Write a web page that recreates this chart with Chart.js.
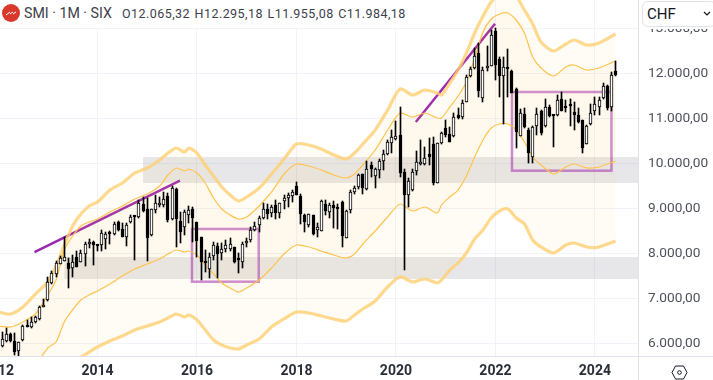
<!DOCTYPE html>
<html>
<head>
<meta charset="utf-8">
<title>SMI</title>
<script src="https://cdn.jsdelivr.net/npm/chart.js@4"></script>
<style>
    html, body { margin: 0; padding: 0; background: #fff; overflow: hidden; }
    body { width: 713px; height: 380px; position: relative; font-family: Roboto, sans-serif; }
    #chart { position: absolute; left: -20px; top: 0; }
    #header { position: absolute; left: 0; top: 0; width: 412px; height: 28px; background: #fff; }
    #logo { position: absolute; left: 2px; top: 4px; width: 18px; height: 18px; border-radius: 50%; background: #d9392a; }
    #title { position: absolute; left: 24px; top: 5px; font-size: 14.2px; color: #3c404b; white-space: nowrap; }
    #ohlc { position: absolute; left: 122px; top: 6px; font-size: 12.5px; letter-spacing: .45px; color: #3c404b; white-space: nowrap; word-spacing: 1px; }
    #cover { position: absolute; left: 639px; top: 0; width: 74px; height: 29px; background: #fff; }
    #currency { position: absolute; left: 642px; top: 1px; width: 72px; height: 24px; border: 1px solid #e0e3eb; border-radius: 6px; background: #fff; font-size: 15px; line-height: 24px; color: #131722; text-indent: 4px; }
    #chevron { position: absolute; left: 703px; top: 11px; }
    #vline { position: absolute; left: 638px; top: 0; width: 1px; height: 380px; background: #e0e3eb; }
    #hline { position: absolute; left: 0; top: 356px; width: 713px; height: 1px; background: #e0e3eb; }
    #settings { position: absolute; left: 671px; top: 365px; }
</style>
</head>
<body>
<canvas id="chart" width="733" height="380"></canvas>
<div id="hline"></div>
<div id="vline"></div>
<div id="header">
    <div id="logo"><svg width="18" height="18"><path d="M4 11 L8 8 M8 10 L11 8 M11 10 L14 8" stroke="#fff" stroke-width="1" fill="none"/></svg></div>
    <div id="title">SMI · 1M · SIX</div>
    <div id="ohlc">O12.065,32 H12.295,18 L11.955,08 C11.984,18</div>
</div>
<div id="cover"></div>
<div id="currency">CHF</div>
<svg id="chevron" width="8" height="6"><path d="M1 1 L4 4 L7 1" stroke="#131722" stroke-width="1.2" fill="none"/></svg>
<svg id="settings" width="17" height="15"><path d="M1 7.5 L4.5 1 L12.5 1 L16 7.5 L12.5 14 L4.5 14 Z" stroke="#131722" stroke-width="1" fill="none"/><circle cx="8.5" cy="7.5" r="1.8" stroke="#131722" fill="none"/></svg>

<script>
// Months are counted from Jan 2014, first candle is Feb 2012
const firstMonth = -23;

const opens = [5963,6067,6222,6074,5852,6081,6422,6370,6481,6563,6830,6970,7348,7555,7785,7852,7792,7696,7926,7815,8007,8215,8267,8178,8192,8333,8452,8437,8704,8548,8370,8704,8830,8822,9111,8992,8429,8978,9089,9089,9289,8770,9437,8733,8607,8874,8992,8704,8370,7815,7666,7963,8178,8030,8104,8104,8148,7892,7830,8252,8311,8533,8652,8800,8992,8918,9089,8918,9170,9252,9296,9520,9290,8867,8652,8867,8533,8518,9104,8941,9089,9015,9163,8363,8978,9370,9496,9777,9440,9977,9740,9866,10074,10214,10474,10563,10644,9829,9311,9422,9852,10007,9992,10222,10444,9585,10459,10792,10666,10629,11089,11052,11385,11963,12126,12474,11474,12126,12185,12963,12326,11963,12148,12066,11666,10629,11111,10755,10163,10852,11185,10837,11274,11074,11089,11444,11260,11300,11155,11089,10977,10437,10881,11185,11259,11459,11733,11274,12065];
const highs = [6274,6348,6252,6237,6052,6422,6533,6607,6622,6837,7000,7481,7622,7844,7963,8385,7904,7978,8067,8089,8274,8333,8281,8200,8533,8496,8504,8704,8741,8681,8681,8866,8844,9200,9274,9237,9000,9311,9274,9385,9348,9511,9459,8940,8978,9066,9052,8718,8370,8089,8015,8274,8252,8237,8311,8348,8163,8015,8274,8348,8592,8704,8844,9126,9111,9089,9200,9141,9311,9348,9422,9607,9330,8889,8889,8867,8681,9200,9200,9126,9178,9111,9178,8978,9422,9520,9777,9777,10066,10052,9903,10103,10311,10533,10755,10955,11259,9880,9680,9880,10296,10533,10385,10570,10607,10474,10718,10977,10829,11126,11237,11422,11977,12163,12570,12681,12163,12622,12977,13014,12385,12385,12548,12088,11681,11215,11237,10792,10844,11237,11200,11444,11311,11089,11533,11592,11422,11437,11385,11237,10977,10866,11333,11496,11496,11792,11755,12050,12295];
const lows = [5941,6052,6052,5755,5741,6074,6370,6363,6467,6533,6815,6963,7333,7481,7778,7852,7252,7481,7718,7815,7741,8126,7763,8067,8074,8104,8222,8415,8518,8385,8185,8681,7867,8792,8940,7852,8407,8918,9052,9052,8718,8755,8163,8252,8422,8681,8274,7941,7422,7607,7459,7867,7474,7867,8052,8074,7807,7570,7696,8163,8274,8518,8496,8770,8770,8815,8770,8807,8992,9052,9163,9311,8667,8496,8607,8422,8385,8518,8866,8792,8570,8548,8148,8363,8903,9340,9440,9333,9420,9718,9474,9681,9866,10200,10237,10533,9718,7644,9037,9390,9760,9977,9977,9977,9533,9570,10444,10607,10496,10607,11000,10992,11385,11926,12111,11481,11385,12074,12170,11866,11481,10889,11496,11570,10348,10629,10792,10015,10015,10644,10644,10829,11052,10385,11066,11185,11163,10844,10755,10903,10252,10437,10866,11089,11089,11444,11200,11177,11955];
const closes = [6104,6222,6074,5830,6052,6400,6370,6481,6600,6822,6860,7370,7570,7792,7904,7926,7659,7822,7718,8015,8215,8259,8192,8170,8459,8444,8437,8674,8533,8385,8644,8822,8815,9126,8963,8363,8992,9126,9100,9215,8755,9459,8778,8496,8926,8978,8792,8296,7830,7800,7941,8200,8000,8104,8200,8222,7815,7870,8222,8267,8533,8630,8792,8992,8889,9037,8904,9141,9244,9311,9378,9318,8889,8718,8881,8437,8592,9178,8963,9089,9015,9000,8407,8955,9370,9460,9755,9459,9881,9889,9881,10059,10222,10496,10600,10622,9807,9311,9622,9829,10037,10015,10126,10163,9570,10459,10681,10644,10496,11037,11015,11348,11926,12111,12400,11629,12088,12163,12866,12200,11963,12148,12103,11585,10718,11126,10814,10252,10822,11103,10696,11274,11074,11060,11422,11185,11245,11290,11089,10940,10363,10844,11126,11333,11422,11733,11237,11985,11984];

// Envelope bands, sampled at the same months
const bandMonths = [-24,-21,-18,-15,-12,-10,-8,-6,-4,-2,0,3,6,9,12,15,17,19,21,22,24,26,28,30,32,34,36,39,42,45,48,51,54,57,60,62,64,67,70,73,76,79,82,83,85,87,89,91,93,95,97,99,101,103,105,107,110,113,115,118,121,125];
const outerUpper = [6711,6666,6822,7111,7378,7733,8200,8622,8889,9067,9156,9422,9578,9800,9911,10089,10244,10356,10267,10356,10244,9978,9733,9489,9311,9178,9267,9467,9778,10111,10444,10422,10333,10200,10111,10244,10444,10756,11200,11667,11533,11644,11578,11533,11800,12089,12467,12911,13289,13600,13800,13867,13733,13422,13111,12711,12511,12667,12756,12644,12689,12889];
const innerUpper = [6400,6378,6489,6666,7089,7422,8089,8400,8622,8711,8778,8933,9067,9222,9333,9511,9756,9911,9844,9889,9800,9578,9244,9000,8867,8778,8822,9067,9378,9778,10000,9956,9867,9756,9689,9778,9978,10311,10756,11133,11044,11133,11022,11022,11267,11511,11822,12356,12933,13222,13333,13356,13200,12911,12378,12133,11956,12156,12200,12089,12133,12289];
const innerLower = [4756,4867,5156,5511,5911,6044,6489,6756,6978,7089,7178,7333,7511,7667,7778,7889,8000,8089,8044,8067,7978,7756,7556,7356,7244,7156,7244,7422,7689,8000,8200,8156,8067,7978,7911,8000,8222,8511,8822,9111,8956,9044,8911,9089,9267,9422,9733,10156,10533,10800,10889,10889,10756,10489,10156,9978,9778,9933,10000,9911,9933,10067];
const outerLower = [4200,4311,4644,5022,5378,5489,5533,5600,5711,5822,5933,6067,6178,6311,6400,6489,6578,6667,6600,6644,6533,6311,6089,5978,5911,5889,5978,6111,6378,6556,6711,6689,6622,6556,6511,6644,6778,6956,7267,7489,7378,7444,7356,7422,7644,7800,8022,8333,8533,8800,8956,9000,8800,8667,8311,8156,8022,8200,8244,8156,8156,8289];

// Drawn objects: month and price of each end
const trendLines = [
    [[-15.2, 8044], [19.9, 9628]],
    [[76.8, 10933], [95.9, 13117]]
];
const grayZones = [
    { from: 11, to: 131, top: 10156, bottom: 9578 },
    { from: -8, to: 131, top: 7933, bottom: 7444 }
];
const boxes = [
    { from: 22.8, to: 38.9, top: 8556, bottom: 7385 },
    { from: 100, to: 124, top: 11600, bottom: 9851 }
];

const xTicks = [-24, 0, 24, 48, 72, 96, 120];
const xTickLabels = ['2012', '2014', '2016', '2018', '2020', '2022', '2024'];
const yTicks = [6000, 7000, 8000, 9000, 10000, 11000, 12000, 13000];
const yTickLabels = ['6.000,00', '7.000,00', '8.000,00', '9.000,00', '10.000,00', '11.000,00', '12.000,00', '13.000,00'];

const month = i => firstMonth + i;
const isUp = i => closes[i] >= opens[i];

function bandData(values) {
    return values.map((v, i) => ({ x: bandMonths[i], y: v }));
}

function bandLine(values, width, color, fill, fillColor) {
    return {
        type: 'line', data: bandData(values), borderColor: color, borderWidth: width,
        pointRadius: 0, tension: 0.25, fill: fill, backgroundColor: fillColor, order: 4
    };
}

const datasets = [
    bandLine(outerUpper, 3.2, 'rgba(255,208,115,.8)', '+3', 'rgba(255,196,80,.05)'),
    bandLine(innerUpper, 1.2, '#ffc34d', '+1', 'rgba(255,196,80,.05)'),
    bandLine(innerLower, 1.2, '#ffc34d', false),
    bandLine(outerLower, 3.2, 'rgba(255,208,115,.8)', false)
];

trendLines.forEach(line => {
    datasets.push({
        type: 'line', data: line.map(p => ({ x: p[0], y: p[1] })),
        borderColor: '#9c27b0', borderWidth: 2.5, pointRadius: 0, order: 6
    });
});

// Wicks go under the bodies
datasets.push({
    type: 'bar', grouped: false, barThickness: 1, backgroundColor: '#000', order: 2,
    data: highs.map((h, i) => ({ x: month(i), y: [lows[i], h] }))
});
datasets.push({
    type: 'bar', grouped: false, barThickness: 3, minBarLength: 2, order: 1,
    data: opens.map((o, i) => ({ x: month(i), y: [o, closes[i]] })),
    backgroundColor: ctx => isUp(ctx.dataIndex) ? '#fff' : '#000',
    borderColor: '#000', borderWidth: 1, borderSkipped: false
});

// Candles snap to whole pixels, otherwise the wicks go grey
const snapBars = {
    id: 'snapBars',
    afterDatasetsUpdate(chart) {
        chart.getSortedVisibleDatasetMetas().forEach(meta => {
            if (meta.type !== 'bar') return;
            meta.data.forEach(el => {
                el.x = Math.floor(el.x) + 0.5;
                el.y = Math.round(el.y);
                el.base = Math.round(el.base);
            });
        });
    }
};

const drawings = {
    id: 'drawings',
    beforeDatasetsDraw(chart) {
        const { ctx, chartArea, scales: { x, y } } = chart;
        ctx.save();
        ctx.beginPath();
        ctx.rect(chartArea.left, chartArea.top, chartArea.width, chartArea.height);
        ctx.clip();
        ctx.fillStyle = 'rgba(120,123,134,.18)';
        grayZones.forEach(z => {
            ctx.fillRect(x.getPixelForValue(z.from), y.getPixelForValue(z.top),
                x.getPixelForValue(z.to) - x.getPixelForValue(z.from),
                y.getPixelForValue(z.bottom) - y.getPixelForValue(z.top));
        });
        ctx.strokeStyle = 'rgba(156,39,176,.55)';
        ctx.lineWidth = 2.5;
        boxes.forEach(b => {
            ctx.strokeRect(x.getPixelForValue(b.from), y.getPixelForValue(b.top),
                x.getPixelForValue(b.to) - x.getPixelForValue(b.from),
                y.getPixelForValue(b.bottom) - y.getPixelForValue(b.top));
        });
        ctx.restore();
    }
};

// The fixed sizes keep the plot area where the reference has it
function noPadding(scale) {
    scale.paddingLeft = 0;
    scale.paddingRight = 0;
    scale.paddingTop = 0;
    scale.paddingBottom = 0;
}

new Chart(document.getElementById('chart').getContext('2d'), {
    data: { datasets: datasets },
    plugins: [snapBars, drawings],
    options: {
        responsive: false,
        animation: false,
        layout: { autoPadding: false, padding: { left: 18 } },
        plugins: { legend: { display: false }, tooltip: { enabled: false } },
        scales: {
            x: {
                type: 'linear',
                offset: false,
                min: -24,
                max: 130.4,
                afterBuildTicks: scale => { scale.ticks = xTicks.map(v => ({ value: v })); },
                afterFit: scale => { scale.height = 24; noPadding(scale); },
                ticks: {
                    maxRotation: 0,
                    padding: 7,
                    color: '#2a2e39',
                    font: { family: 'Roboto', size: 14, weight: 'bold' },
                    callback: (v, i) => xTickLabels[i]
                },
                grid: { offset: false, color: '#f0f3fa', drawTicks: false },
                border: { display: false }
            },
            y: {
                type: 'linear',
                position: 'right',
                min: 5733.3,
                max: 13644.4,
                afterBuildTicks: scale => { scale.ticks = yTicks.map(v => ({ value: v })); },
                afterFit: scale => { scale.width = 75; noPadding(scale); },
                ticks: {
                    padding: 10,
                    color: '#50535e',
                    font: { family: 'Roboto', size: 13.7 },
                    callback: (v, i) => yTickLabels[i]
                },
                grid: { color: '#f0f3fa', drawTicks: false },
                border: { display: false }
            }
        }
    }
});
</script>
</body>
</html>
